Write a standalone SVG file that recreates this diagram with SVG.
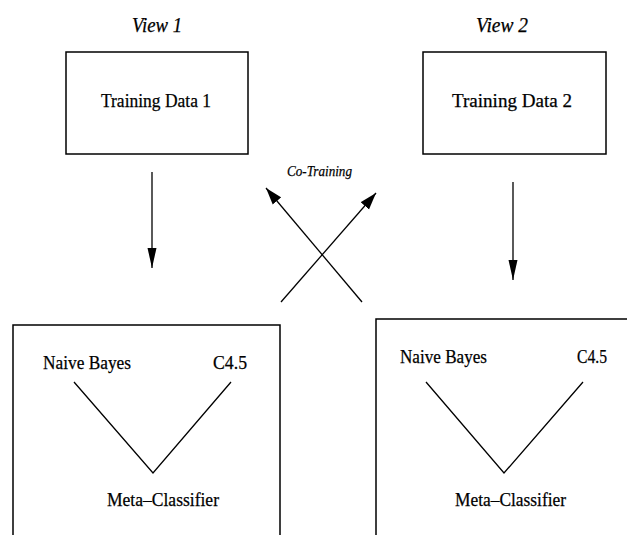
<svg xmlns="http://www.w3.org/2000/svg" width="627" height="535" viewBox="0 0 627 535">
<style>
  text { font-family: "Liberation Serif", "Times New Roman", serif; fill: #000; stroke: #000; stroke-width: 0.25; }
  .lbl { font-size: 19.5px; }
  .it { font-style: italic; }
  .box { fill: none; stroke: #000; stroke-width: 1.5; }
  .edge { fill: none; stroke: #000; stroke-width: 1.3; }
</style>
<defs>
  <marker id="headDown" markerUnits="userSpaceOnUse" viewBox="0 -5 21 10" refX="20" refY="0" markerWidth="21" markerHeight="10" orient="auto">
    <path d="M0,-4.5 L20,0 L0,4.5 Z" fill="#000"/>
  </marker>
  <marker id="headDiag" markerUnits="userSpaceOnUse" viewBox="0 -6 18 12" refX="17" refY="0" markerWidth="18" markerHeight="12" orient="auto">
    <path d="M0,-5.5 L17,0 L0,5.5 Z" fill="#000"/>
  </marker>
</defs>
<rect width="627" height="535" fill="#fff"/>

<g id="view1">
  <text class="it" x="132" y="32" font-size="20" textLength="50" lengthAdjust="spacingAndGlyphs">View 1</text>
</g>
<g id="view2">
  <text class="it" x="476" y="32" font-size="20" textLength="52" lengthAdjust="spacingAndGlyphs">View 2</text>
</g>
<g id="training1">
  <rect class="box" x="66" y="52" width="182" height="102"/>
  <text class="lbl" x="101" y="107" textLength="110" lengthAdjust="spacingAndGlyphs">Training Data 1</text>
</g>
<g id="training2">
  <rect class="box" x="423" y="52" width="183" height="102"/>
  <text class="lbl" x="452" y="107" textLength="120" lengthAdjust="spacingAndGlyphs">Training Data 2</text>
</g>
<g id="cotraining">
  <text class="it" x="287" y="176" font-size="15" textLength="65" lengthAdjust="spacingAndGlyphs">Co-Training</text>
</g>
<g id="classifier1">
  <path class="box" d="M13,536 V325 H280 V536"/>
  <text class="lbl" x="43" y="369" textLength="88" lengthAdjust="spacingAndGlyphs">Naive Bayes</text>
  <text class="lbl" x="213" y="369" textLength="34" lengthAdjust="spacingAndGlyphs">C4.5</text>
  <text class="lbl" x="107" y="506" textLength="112" lengthAdjust="spacingAndGlyphs">Meta–Classifier</text>
</g>
<g id="classifier2">
  <path class="box" d="M376,536 V319 H630"/>
  <text class="lbl" x="400" y="363" textLength="87" lengthAdjust="spacingAndGlyphs">Naive Bayes</text>
  <text class="lbl" x="577" y="363" textLength="30" lengthAdjust="spacingAndGlyphs">C4.5</text>
  <text class="lbl" x="455" y="506" textLength="111" lengthAdjust="spacingAndGlyphs">Meta–Classifier</text>
</g>

<g id="connectors">
  <line class="edge" x1="152" y1="172" x2="152" y2="268" marker-end="url(#headDown)"/>
  <line class="edge" x1="513" y1="182" x2="513" y2="280" marker-end="url(#headDown)"/>
  <line class="edge" x1="362" y1="302" x2="266" y2="188" marker-end="url(#headDiag)"/>
  <line class="edge" x1="281" y1="302" x2="376" y2="193" marker-end="url(#headDiag)"/>
  <polyline class="edge" points="74,382 153,473 231,382"/>
  <polyline class="edge" points="426,382 504,473 583,382"/>
</g>
</svg>
